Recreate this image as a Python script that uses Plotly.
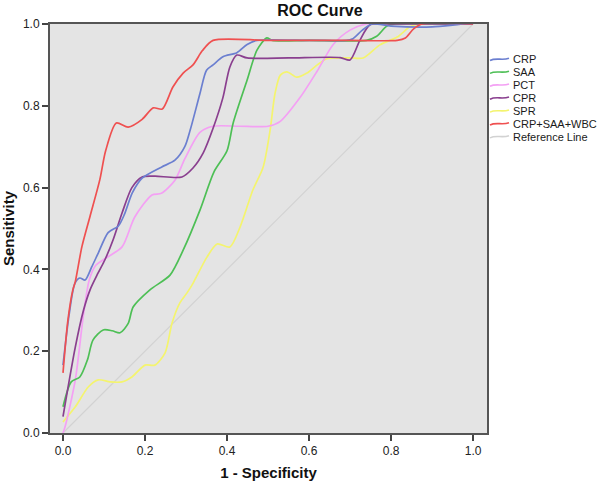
import plotly.graph_objects as go

# ---------------- data ----------------
series_names = ["CRP", "SAA", "PCT", "CPR", "SPR", "CRP+SAA+WBC"]
ref_name = "Reference Line"

crp_x = [0, 0.015, 0.029, 0.041, 0.054, 0.07, 0.086, 0.11, 0.135, 0.15, 0.169, 0.193, 0.24, 0.273,
         0.297, 0.31, 0.334, 0.35, 0.366, 0.39, 0.424, 0.449, 0.473, 0.6, 0.69, 0.705, 0.73, 0.754, 0.8,
         0.9, 0.98, 1.0]
crp_y = [0.166, 0.29, 0.366, 0.379, 0.374, 0.406, 0.44, 0.49, 0.506, 0.535, 0.587, 0.623, 0.65, 0.667,
         0.70, 0.74, 0.83, 0.887, 0.90, 0.92, 0.93, 0.95, 0.96, 0.96, 0.96, 0.963, 0.985, 1.0, 0.995,
         0.993, 1.0, 1.0]

saa_x = [0, 0.02, 0.041, 0.06, 0.073, 0.098, 0.12, 0.139, 0.159, 0.171, 0.212, 0.261, 0.293, 0.334,
         0.368, 0.4, 0.415, 0.449, 0.473, 0.497, 0.51, 0.6, 0.74, 0.765, 0.79, 0.81, 1.0]
saa_y = [0.064, 0.125, 0.137, 0.18, 0.227, 0.252, 0.25, 0.245, 0.268, 0.308, 0.35, 0.386, 0.447, 0.545,
         0.638, 0.69, 0.758, 0.863, 0.936, 0.966, 0.96, 0.96, 0.96, 0.97, 0.995, 1.0, 1.0]

pct_x = [0, 0.005, 0.03, 0.05, 0.064, 0.08, 0.105, 0.144, 0.175, 0.217, 0.24, 0.273, 0.297, 0.334,
         0.366, 0.43, 0.5, 0.53, 0.578, 0.62, 0.659, 0.70, 0.74, 1.0]
pct_y = [0.0, 0.015, 0.13, 0.29, 0.374, 0.41, 0.428, 0.455, 0.528, 0.582, 0.586, 0.618, 0.67, 0.735,
         0.75, 0.75, 0.75, 0.762, 0.82, 0.885, 0.95, 0.985, 1.0, 1.0]

cpr_x = [0, 0.03, 0.05, 0.066, 0.085, 0.102, 0.122, 0.144, 0.168, 0.193, 0.224, 0.29, 0.317, 0.342,
         0.366, 0.39, 0.407, 0.424, 0.449, 0.55, 0.676, 0.70, 0.724, 0.749, 0.8, 1.0]
cpr_y = [0.04, 0.21, 0.30, 0.35, 0.39, 0.423, 0.472, 0.538, 0.60, 0.626, 0.628, 0.626, 0.648, 0.685,
         0.745, 0.82, 0.895, 0.924, 0.917, 0.917, 0.918, 0.912, 0.96, 0.998, 1.0, 1.0]

spr_x = [0, 0.03, 0.062, 0.086, 0.115, 0.144, 0.168, 0.2, 0.224, 0.249, 0.266, 0.285, 0.302, 0.317,
         0.351, 0.376, 0.407, 0.432, 0.463, 0.488, 0.505, 0.517, 0.53, 0.546, 0.57, 0.595, 0.62, 0.644,
         0.70, 0.732, 0.773, 0.815, 0.846, 0.87, 1.0]
spr_y = [0.027, 0.064, 0.113, 0.13, 0.125, 0.125, 0.137, 0.166, 0.166, 0.196, 0.269, 0.318, 0.342, 0.366,
         0.43, 0.462, 0.455, 0.504, 0.594, 0.65, 0.74, 0.83, 0.875, 0.883, 0.87, 0.88, 0.9, 0.915,
         0.917, 0.917, 0.949, 0.968, 0.993, 1.0, 1.0]

combo_x = [0, 0.012, 0.024, 0.03, 0.046, 0.066, 0.09, 0.104, 0.13, 0.159, 0.193, 0.22, 0.242, 0.268,
           0.293, 0.317, 0.34, 0.366, 0.5, 0.7, 0.815, 0.835, 0.855, 0.875, 1.0]
combo_y = [0.147, 0.276, 0.35, 0.37, 0.455, 0.53, 0.62, 0.69, 0.758, 0.748, 0.767, 0.795, 0.792, 0.846,
           0.88, 0.9, 0.935, 0.96, 0.96, 0.96, 0.96, 0.966, 0.988, 1.0, 1.0]

ref_x = [0, 1]
ref_y = [0, 1]

tick_vals = [0.0, 0.2, 0.4, 0.6, 0.8, 1.0]
tick_text = ["0.0", "0.2", "0.4", "0.6", "0.8", "1.0"]

# ---------------- styles ----------------
colors = ["#6b7fd0", "#4dbf55", "#f4a0f4", "#8a3f8f", "#f4f46e", "#ef5050"]
ref_color = "#d2d2d2"
FONT = "Arial, Liberation Sans, sans-serif"

W, H = 600, 483
L, R, T, B = 50, 113, 24, 50
PW, PH = W - L - R, H - T - B


def px_to_paper(px, py):
    return (px - L) / PW, (H - B - py) / PH


fig = go.Figure()

fig.add_trace(go.Scatter(x=ref_x, y=ref_y, mode="lines", name=ref_name, showlegend=False,
                         line=dict(color=ref_color, width=1.2)))

xs = [crp_x, saa_x, pct_x, cpr_x, spr_x, combo_x]
ys = [crp_y, saa_y, pct_y, cpr_y, spr_y, combo_y]
draw_order = [4, 2, 1, 3, 0, 5]
for i in draw_order:
    fig.add_trace(go.Scatter(x=xs[i], y=ys[i], mode="lines", name=series_names[i], showlegend=False,
                             line=dict(color=colors[i], width=1.7, shape="spline", smoothing=0.75)))

# ---------------- custom legend (compact SPSS style) ----------------
legend_names = series_names + [ref_name]
legend_colors = colors + [ref_color]
shapes = []
annotations = []
y0_px, step_px = 59.3, 12.9
for k, (nm, col) in enumerate(zip(legend_names, legend_colors)):
    yc = y0_px + k * step_px
    xa, ya = px_to_paper(490, yc + 1.2)
    xb, yb = px_to_paper(496, yc - 2.0)
    xc, yc2 = px_to_paper(502, yc + 1.5)
    xd, yd = px_to_paper(509, yc - 1.0)
    shapes.append(dict(type="path", xref="paper", yref="paper",
                       path=f"M {xa},{ya} C {xb},{yb} {xc},{yc2} {xd},{yd}",
                       line=dict(color=col, width=1.6)))
    tx, ty = px_to_paper(511, yc)
    annotations.append(dict(x=tx, y=ty, xref="paper", yref="paper", text=nm, showarrow=False,
                            xanchor="left", yanchor="middle",
                            font=dict(family=FONT, size=11, color="#1a1a1a")))

fig.update_layout(
    width=W, height=H,
    margin=dict(l=L, r=R, t=T, b=B),
    paper_bgcolor="white",
    plot_bgcolor="#e4e4e4",
    showlegend=False,
    title=dict(text="<b>ROC Curve</b>", x=320 / W, xanchor="center", y=1 - 10 / H, yanchor="middle",
               font=dict(family=FONT, size=16, color="#111")),
    shapes=shapes,
    annotations=annotations,
    xaxis=dict(range=[-0.0317, 1.034], tickvals=tick_vals, ticktext=tick_text,
               ticks="outside", ticklen=6, tickwidth=1.5, tickcolor="#444",
               showgrid=False, zeroline=False, showline=True, linecolor="#555", linewidth=2, mirror=True,
               tickfont=dict(family=FONT, size=12, color="#222"),
               title=dict(text="<b>1 - Specificity</b>", standoff=10,
                          font=dict(family=FONT, size=15, color="#111")),
               automargin=False),
    yaxis=dict(range=[0, 1.0], tickvals=tick_vals, ticktext=tick_text,
               ticks="outside", ticklen=6, tickwidth=1.5, tickcolor="#444",
               showgrid=False, zeroline=False, showline=True, linecolor="#555", linewidth=2, mirror=True,
               tickfont=dict(family=FONT, size=12, color="#222"),
               title=dict(text="<b>Sensitivity</b>", standoff=8,
                          font=dict(family=FONT, size=15, color="#111")),
               automargin=False),
)

fig.write_html("out.html",
               config={"displayModeBar": False},
               post_script="document.body.style.margin='0';document.body.style.padding='0';")
